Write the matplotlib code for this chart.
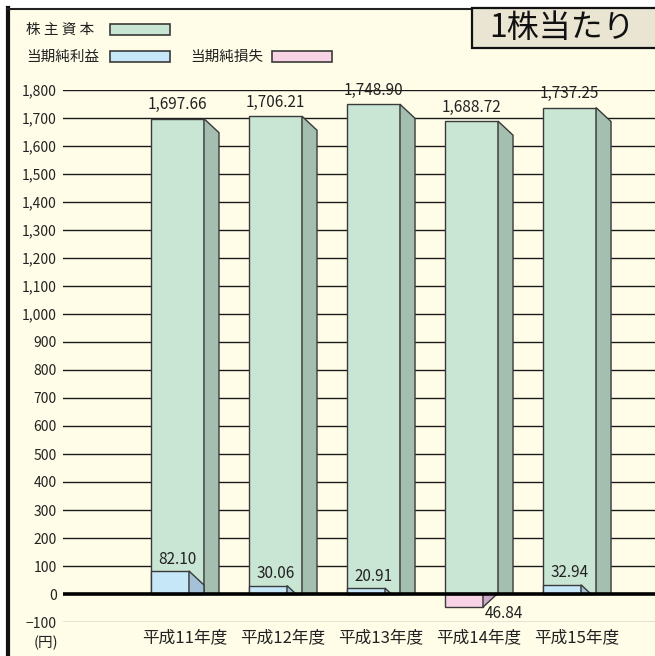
import matplotlib
matplotlib.use("Agg")
import matplotlib.pyplot as plt
from matplotlib.patches import Rectangle, Polygon

plt.rcParams['font.family'] = ['Noto Sans CJK JP', 'DejaVu Sans']

# -------------------------
# data (円, 1株当たり)
# -------------------------
years = ["平成11年度", "平成12年度", "平成13年度", "平成14年度", "平成15年度"]
equity = [1697.66, 1706.21, 1748.90, 1688.72, 1737.25]    # 株主資本
profit = [82.10, 30.06, 20.91, 0, 32.94]                  # 当期純利益
loss = [0, 0, 0, 46.84, 0]                                # 当期純損失
yticks = list(range(-100, 1801, 100))

# colours
BG = "#FFFDE8"
EDGE = "#3a3a3a"
EQ_FRONT, EQ_SIDE = "#C9E5D4", "#A4BFAF"
PR_FRONT, PR_SIDE = "#C5E7F8", "#A5C1D7"
LS_FRONT, LS_SIDE = "#F8D2E5", "#C9AAC9"

W, H = 655, 656
fig = plt.figure(figsize=(W / 100, H / 100), dpi=100)
fig.patch.set_facecolor("white")


def fx(x):
    return x / W


def fy(y):
    return 1 - y / H


# cream panel with frame (left thick, top thin)
fig.add_artist(Rectangle((fx(7), 0), 1, fy(8), transform=fig.transFigure,
                         facecolor=BG, edgecolor="none", zorder=0))
fig.add_artist(plt.Line2D([fx(8), fx(8)], [0, fy(8)], transform=fig.transFigure,
                          color="#111111", lw=3, zorder=1))
fig.add_artist(plt.Line2D([fx(7), 1], [fy(8.5), fy(8.5)], transform=fig.transFigure,
                          color="#222222", lw=1.5, zorder=1))

# -------------------------
# axes: -100 at y=622px, 1800 at y=90px
# -------------------------
ax = fig.add_axes([fx(63), fy(622), fx(655 - 63), (622 - 90) / H])
ax.set_facecolor("none")
ax.set_ylim(-100, 1800)
ax.set_xlim(-1.168, 4.872)
for s in ax.spines.values():
    s.set_visible(False)

HW = 26.5 / 98      # half width of front face
PW = 38 / 98        # width of profit/loss bar
DX = 15 / 98        # depth in x
DY = 14 / 0.28      # depth in y (data units)

for t in yticks:
    if t == 0:
        continue
    ax.axhline(t, color="#777777" if t < 0 else "#1a1a1a", lw=1, zorder=1)
ax.axhline(0, color="black", lw=2.6, zorder=10)

ax.set_yticks(yticks)
ax.set_yticklabels([f"{t:,}".replace("-", "\u2212") for t in yticks])
ax.set_xticks([i + DX / 2 for i in range(len(years))])
ax.set_xticklabels(years)
ax.tick_params(axis="y", length=0, pad=4.5, labelsize=10, labelcolor="#222222")
ax.tick_params(axis="x", length=0, pad=5.5, labelsize=12, labelcolor="#222222")

for i, v in enumerate(equity):
    xl, xr = i - HW, i + HW
    ax.add_patch(Rectangle((xl, 0), 2 * HW, v, facecolor=EQ_FRONT,
                           edgecolor=EDGE, lw=1, zorder=3))
    ax.add_patch(Polygon([(xr, v), (xr + DX, v - DY), (xr + DX, 0), (xr, 0)],
                         closed=True, facecolor=EQ_SIDE, edgecolor=EDGE, lw=1, zorder=3))
    ax.annotate(f"{v:,.2f}", (i, v), xytext=(0, 14), textcoords="offset pixels",
                ha="center", va="center", fontsize=11, color="#222222", zorder=12)

    p = profit[i]
    if p > 0:
        xr2 = xl + PW
        ax.add_patch(Rectangle((xl, 0), PW, p, facecolor=PR_FRONT,
                               edgecolor=EDGE, lw=1, zorder=4))
        if p >= DY:
            side = [(xr2, p), (xr2 + DX, p - DY), (xr2 + DX, 0), (xr2, 0)]
        else:
            side = [(xr2, p), (xr2 + DX * p / DY, 0), (xr2, 0)]
        ax.add_patch(Polygon(side, closed=True, facecolor=PR_SIDE,
                             edgecolor=EDGE, lw=1, zorder=4))
        ax.annotate(f"{p:.2f}", (i, p), xytext=(0, 12), textcoords="offset pixels",
                    ha="center", va="center", fontsize=11, color="#222222", zorder=12)

    l = loss[i]
    if l > 0:
        xr2 = xl + PW
        ax.add_patch(Rectangle((xl, -l), PW, l, facecolor=LS_FRONT,
                               edgecolor=EDGE, lw=1, zorder=4))
        ax.add_patch(Polygon([(xr2, 0), (xr2 + DX * min(1, l / DY), 0), (xr2, -l)],
                             closed=True, facecolor=LS_SIDE, edgecolor=EDGE, lw=1, zorder=4))
        ax.annotate(f"{l:.2f}", (xr2, -l), xytext=(2, -6), textcoords="offset pixels",
                    ha="left", va="center", fontsize=11, color="#222222", zorder=12)

fig.text(fx(46), fy(643), "(円)", ha="center", va="center", fontsize=10.5, color="#222222")

# -------------------------
# legend (hand placed) and title box
# -------------------------
legend_items = [("株 主 資 本", EQ_FRONT, 26, 110, 29.5),
                ("当期純利益", PR_FRONT, 26, 110, 56.5),
                ("当期純損失", LS_FRONT, 190, 272, 56.5)]
for label, col, tx, rx, cy in legend_items:
    fig.text(fx(tx), fy(cy), label, ha="left", va="center", fontsize=10.5, color="#222222")
    fig.add_artist(Rectangle((fx(rx), fy(cy + 5.5)), fx(60), 11 / H, transform=fig.transFigure,
                             facecolor=col, edgecolor=EDGE, lw=1.2, zorder=5))

fig.add_artist(Rectangle((fx(472), fy(48)), fx(200), 40 / H, transform=fig.transFigure,
                         facecolor="#E9E5D2", edgecolor="#111111", lw=1.6, zorder=5))
fig.text(fx(489), fy(28), "1株当たり", ha="left", va="center", fontsize=23,
         color="#111111", zorder=6)

fig.savefig("out.png", dpi=100, facecolor=fig.get_facecolor())
